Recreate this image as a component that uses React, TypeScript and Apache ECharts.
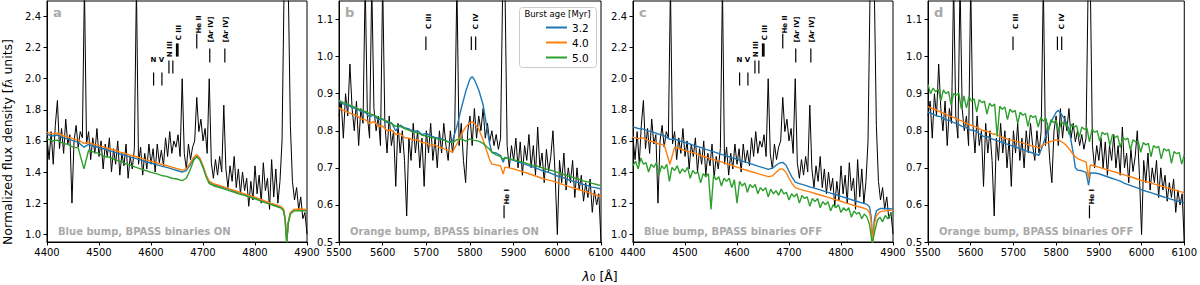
import React, { useEffect, useRef } from "react";
import * as echarts from "echarts";

const FONT = "DejaVu Sans";
const C_BLUE = "#1f77b4";
const C_ORANGE = "#ff7f0e";
const C_GREEN = "#2ca02c";
const GRAY = "#a9a9a9";

// ---------- tick labels ----------
const X_TICKS_BLUE = [4400, 4500, 4600, 4700, 4800, 4900];
const X_TICKS_ORANGE = [5500, 5600, 5700, 5800, 5900, 6000, 6100];
const Y_TICKS_BLUE = [1.0, 1.2, 1.4, 1.6, 1.8, 2.0, 2.2, 2.4];
const Y_TICKS_ORANGE = [0.5, 0.6, 0.7, 0.8, 0.9, 1.0, 1.1];

// ---------- observed spectra ----------
const OBS_BLUE_START = 4400;
const OBS_BLUE_STEP = 4;
const OBS_BLUE_BUMP = [
  1.62, 1.48, 1.66, 1.45, 1.70, 1.86, 1.55, 1.68, 1.52, 1.74,
  1.58, 1.64, 1.20, 1.60, 1.70, 1.56, 1.66, 1.62, 2.60, 1.58,
  1.66, 1.48, 1.62, 1.52, 1.68, 1.50, 1.60, 1.42, 1.58, 1.50,
  1.62, 1.40, 1.55, 1.45, 1.60, 1.38, 1.52, 1.44, 1.58, 1.36,
  1.50, 1.42, 1.55, 2.60, 1.45, 1.56, 1.38, 1.52, 1.42, 1.58,
  1.45, 1.55, 1.40, 1.58, 1.46, 1.54, 1.44, 1.62, 1.50, 1.66,
  1.52, 1.60, 1.56, 1.64, 1.50, 2.00, 1.52, 1.42, 1.58, 1.48,
  1.56, 1.60, 1.88, 1.66, 1.74, 1.60, 1.68, 1.52, 2.00, 1.46,
  1.36, 1.48, 1.38, 1.50, 1.40, 1.83, 1.42, 1.30, 1.44, 1.34,
  1.50, 1.30, 1.42, 1.26, 1.40, 1.28, 1.36, 1.18, 1.34, 1.22,
  1.44, 1.26, 1.38, 1.20, 1.46, 1.28, 1.36, 1.16, 1.48, 1.24,
  1.42, 1.20, 1.34, 1.60, 2.60, 2.60, 2.60, 1.70, 1.34, 1.22,
  1.30, 1.16, 1.24, 1.10, 1.14, 1.00,
];

const OBS_ORANGE_START = 5500;
const OBS_ORANGE_STEP = 5;
const OBS_ORANGE_BUMP = [
  0.84, 0.88, 0.78, 0.90, 0.84, 0.98, 0.86, 0.80, 0.88, 0.76,
  0.86, 0.82, 1.20, 0.84, 0.78, 1.20, 0.86, 0.80, 0.84, 0.76,
  1.20, 0.82, 0.74, 0.84, 0.76, 0.80, 0.65, 0.82, 0.74, 0.80,
  0.72, 0.57, 0.78, 0.72, 0.82, 0.74, 0.80, 0.70, 0.78, 0.65,
  0.80, 0.74, 0.82, 0.72, 0.78, 0.70, 0.80, 0.74, 0.82, 0.76,
  0.72, 0.80, 0.74, 0.80, 1.20, 0.76, 0.82, 0.72, 0.66, 0.80,
  0.84, 0.76, 0.86, 0.78, 0.84, 0.80, 0.86, 0.78, 0.82, 0.77,
  0.80, 0.76, 0.79, 0.75, 0.78, 1.20, 1.20, 0.76, 0.70, 0.76,
  0.72, 0.78, 0.70, 0.77, 0.68, 0.76, 0.72, 0.79, 0.70, 0.76,
  0.68, 0.81, 0.70, 0.74, 0.66, 0.75, 0.69, 0.73, 0.80, 0.68,
  0.52, 0.72, 0.66, 0.74, 0.64, 0.70, 0.66, 0.72, 0.62, 0.70,
  0.64, 0.68, 0.61, 0.66, 0.62, 0.67, 0.58, 0.64, 0.60, 0.63,
  0.50,
];

// ---------- models, blue bump ----------
const MODEL_WL_BLUE = [
  4400, 4410, 4420, 4430, 4440, 4450, 4460, 4471, 4480, 4490, 4500, 4510, 4520, 4530, 4540,
  4550, 4560, 4570, 4580, 4590, 4600, 4610, 4620, 4630, 4640, 4650, 4660, 4668, 4676, 4682,
  4688, 4694, 4700, 4706, 4712, 4720, 4730, 4740, 4750, 4760, 4770, 4780, 4790, 4800, 4810,
  4820, 4830, 4840, 4850, 4855, 4858, 4861, 4864, 4868, 4875, 4885, 4900,
];
const ON_BLUE_32 = [
  1.642, 1.632, 1.638, 1.622, 1.612, 1.602, 1.592, 1.560, 1.578, 1.566, 1.558, 1.548, 1.536, 1.528, 1.516,
  1.508, 1.496, 1.488, 1.478, 1.466, 1.458, 1.448, 1.438, 1.430, 1.420, 1.410, 1.400, 1.410, 1.450, 1.485,
  1.500, 1.482, 1.435, 1.375, 1.335, 1.320, 1.310, 1.300, 1.288, 1.278, 1.266, 1.256, 1.244, 1.234, 1.221,
  1.208, 1.196, 1.186, 1.174, 1.156, 1.096, 0.948, 1.076, 1.136, 1.156, 1.158, 1.156,
];
const ON_BLUE_40 = [
  1.655, 1.645, 1.650, 1.635, 1.625, 1.615, 1.605, 1.585, 1.590, 1.578, 1.570, 1.560, 1.548, 1.540, 1.528,
  1.520, 1.508, 1.500, 1.490, 1.478, 1.470, 1.460, 1.450, 1.442, 1.432, 1.422, 1.412, 1.420, 1.460, 1.495,
  1.512, 1.490, 1.440, 1.380, 1.340, 1.325, 1.315, 1.305, 1.292, 1.282, 1.270, 1.260, 1.248, 1.238, 1.225,
  1.212, 1.200, 1.190, 1.178, 1.160, 1.100, 0.950, 1.080, 1.140, 1.160, 1.162, 1.160,
];
const ON_BLUE_50 = [
  1.615, 1.600, 1.605, 1.585, 1.578, 1.560, 1.555, 1.420, 1.540, 1.528, 1.520, 1.500, 1.495, 1.480, 1.470,
  1.455, 1.445, 1.432, 1.420, 1.410, 1.398, 1.390, 1.378, 1.372, 1.360, 1.355, 1.345, 1.360, 1.420, 1.475,
  1.498, 1.478, 1.430, 1.370, 1.325, 1.312, 1.302, 1.292, 1.280, 1.270, 1.258, 1.250, 1.238, 1.228, 1.215,
  1.202, 1.192, 1.180, 1.168, 1.150, 1.090, 0.945, 1.070, 1.130, 1.150, 1.152, 1.150,
];
const OFF_BLUE_32 = [
  1.690, 1.680, 1.676, 1.665, 1.655, 1.643, 1.632, 1.610, 1.612, 1.600, 1.590, 1.580, 1.568, 1.558, 1.546,
  1.536, 1.525, 1.514, 1.503, 1.492, 1.482, 1.470, 1.460, 1.449, 1.438, 1.428, 1.417, 1.425, 1.445, 1.458,
  1.462, 1.445, 1.405, 1.365, 1.335, 1.325, 1.316, 1.305, 1.295, 1.285, 1.274, 1.264, 1.254, 1.243, 1.233,
  1.222, 1.212, 1.202, 1.192, 1.175, 1.110, 0.955, 1.090, 1.150, 1.165, 1.165, 1.162,
];
const OFF_BLUE_40 = [
  1.625, 1.615, 1.620, 1.600, 1.595, 1.580, 1.575, 1.450, 1.560, 1.550, 1.538, 1.528, 1.520, 1.505, 1.498,
  1.485, 1.475, 1.465, 1.452, 1.442, 1.432, 1.420, 1.410, 1.400, 1.390, 1.380, 1.370, 1.375, 1.400, 1.418,
  1.420, 1.400, 1.360, 1.325, 1.300, 1.290, 1.280, 1.272, 1.262, 1.252, 1.242, 1.232, 1.222, 1.212, 1.200,
  1.190, 1.180, 1.172, 1.160, 1.140, 1.080, 0.945, 1.060, 1.120, 1.145, 1.150, 1.155,
];
const OFF_BLUE_50_START = 4400;
const OFF_BLUE_50_STEP = 5;
const OFF_BLUE_50 = [
  1.44, 1.47, 1.42, 1.49, 1.45, 1.46, 1.40, 1.45, 1.43, 1.46,
  1.38, 1.44, 1.42, 1.45, 1.34, 1.43, 1.41, 1.44, 1.39, 1.42,
  1.40, 1.43, 1.36, 1.41, 1.39, 1.40, 1.33, 1.39, 1.37, 1.39,
  1.16, 1.38, 1.35, 1.37, 1.31, 1.36, 1.34, 1.36, 1.30, 1.35,
  1.20, 1.34, 1.31, 1.33, 1.27, 1.32, 1.30, 1.32, 1.26, 1.30,
  1.28, 1.30, 1.24, 1.29, 1.26, 1.28, 1.25, 1.29, 1.26, 1.27,
  1.22, 1.26, 1.24, 1.26, 1.20, 1.25, 1.23, 1.24, 1.18, 1.23,
  1.21, 1.23, 1.17, 1.21, 1.19, 1.21, 1.15, 1.19, 1.17, 1.19,
  1.14, 1.17, 1.15, 1.17, 1.11, 1.15, 1.13, 1.14, 1.10, 1.13,
  1.11, 1.06, 0.94, 1.02, 1.09, 1.11, 1.08, 1.12, 1.10, 1.13,
  1.14,
];

// ---------- models, orange bump ----------
const MODEL_WL_ORANGE = [
  5500, 5510, 5520, 5530, 5540, 5550, 5560, 5570, 5580, 5590, 5600, 5610, 5620, 5630, 5640, 5650,
  5660, 5670, 5680, 5690, 5700, 5710, 5720, 5730, 5740, 5750, 5760, 5770, 5780, 5790, 5800, 5805,
  5810, 5820, 5830, 5840, 5845, 5850, 5860, 5870, 5876, 5880, 5890, 5900, 5910, 5920, 5930, 5940,
  5950, 5960, 5970, 5980, 5990, 6000, 6010, 6020, 6030, 6040, 6050, 6060, 6070, 6080, 6090, 6100,
];
const ON_ORANGE_32 = [
  0.880, 0.872, 0.870, 0.862, 0.860, 0.852, 0.850, 0.838, 0.842, 0.830, 0.832, 0.822, 0.822, 0.800, 0.815, 0.808,
  0.805, 0.798, 0.800, 0.790, 0.793, 0.786, 0.782, 0.780, 0.776, 0.770, 0.772, 0.812, 0.860, 0.905, 0.940, 0.946,
  0.938, 0.910, 0.870, 0.800, 0.765, 0.742, 0.740, 0.733, 0.715, 0.728, 0.724, 0.720, 0.716, 0.712, 0.708, 0.704,
  0.700, 0.695, 0.690, 0.688, 0.683, 0.678, 0.675, 0.670, 0.666, 0.662, 0.660, 0.655, 0.652, 0.648, 0.646, 0.643,
];
const ON_ORANGE_40 = [
  0.862, 0.855, 0.850, 0.845, 0.842, 0.832, 0.830, 0.820, 0.825, 0.812, 0.812, 0.800, 0.802, 0.790, 0.792, 0.782,
  0.780, 0.775, 0.776, 0.768, 0.768, 0.760, 0.762, 0.755, 0.752, 0.748, 0.742, 0.765, 0.790, 0.810, 0.822, 0.824,
  0.820, 0.805, 0.775, 0.740, 0.722, 0.710, 0.708, 0.705, 0.683, 0.702, 0.700, 0.697, 0.693, 0.690, 0.686, 0.682,
  0.678, 0.674, 0.670, 0.667, 0.664, 0.660, 0.656, 0.652, 0.648, 0.645, 0.641, 0.637, 0.634, 0.630, 0.626, 0.622,
];
const ON_ORANGE_50 = [
  0.882, 0.876, 0.872, 0.866, 0.862, 0.856, 0.852, 0.846, 0.842, 0.836, 0.830, 0.826, 0.820, 0.812, 0.812, 0.806,
  0.802, 0.796, 0.795, 0.788, 0.786, 0.782, 0.780, 0.776, 0.775, 0.770, 0.768, 0.776, 0.778, 0.772, 0.778, 0.776,
  0.774, 0.772, 0.766, 0.755, 0.750, 0.742, 0.735, 0.730, 0.722, 0.728, 0.724, 0.722, 0.718, 0.716, 0.712, 0.708,
  0.706, 0.702, 0.698, 0.695, 0.692, 0.688, 0.684, 0.680, 0.676, 0.673, 0.669, 0.665, 0.662, 0.658, 0.655, 0.652,
];
const OFF_ORANGE_32 = [
  0.850, 0.846, 0.840, 0.838, 0.830, 0.828, 0.822, 0.818, 0.812, 0.808, 0.802, 0.800, 0.792, 0.785, 0.784, 0.778,
  0.774, 0.770, 0.766, 0.762, 0.758, 0.754, 0.750, 0.746, 0.742, 0.738, 0.734, 0.765, 0.800, 0.828, 0.850, 0.855,
  0.848, 0.832, 0.805, 0.740, 0.700, 0.694, 0.692, 0.688, 0.653, 0.686, 0.686, 0.684, 0.680, 0.676, 0.672, 0.668,
  0.664, 0.658, 0.654, 0.650, 0.646, 0.641, 0.637, 0.634, 0.630, 0.626, 0.622, 0.619, 0.615, 0.612, 0.609, 0.606,
];
const OFF_ORANGE_40 = [
  0.865, 0.860, 0.856, 0.850, 0.846, 0.840, 0.836, 0.830, 0.826, 0.820, 0.815, 0.812, 0.806, 0.800, 0.798, 0.792,
  0.790, 0.784, 0.780, 0.776, 0.774, 0.770, 0.768, 0.764, 0.760, 0.758, 0.754, 0.762, 0.768, 0.772, 0.775, 0.775,
  0.772, 0.765, 0.752, 0.736, 0.730, 0.725, 0.720, 0.716, 0.671, 0.708, 0.705, 0.702, 0.698, 0.695, 0.691, 0.688,
  0.684, 0.681, 0.677, 0.674, 0.670, 0.666, 0.663, 0.660, 0.656, 0.653, 0.650, 0.646, 0.643, 0.640, 0.636, 0.633,
];
const OFF_ORANGE_50_START = 5500;
const OFF_ORANGE_50_STEP = 6;
const OFF_ORANGE_50 = [
  0.925, 0.900, 0.915, 0.905, 0.912, 0.880, 0.910, 0.900, 0.906, 0.870,
  0.900, 0.896, 0.902, 0.860, 0.894, 0.862, 0.892, 0.880, 0.886, 0.850,
  0.884, 0.876, 0.880, 0.845, 0.874, 0.866, 0.872, 0.785, 0.866, 0.858,
  0.864, 0.830, 0.858, 0.850, 0.855, 0.820, 0.850, 0.842, 0.846, 0.812,
  0.842, 0.836, 0.840, 0.810, 0.836, 0.826, 0.834, 0.800, 0.830, 0.822,
  0.828, 0.798, 0.824, 0.818, 0.822, 0.790, 0.818, 0.810, 0.814, 0.782,
  0.810, 0.804, 0.808, 0.770, 0.804, 0.796, 0.800, 0.772, 0.796, 0.790,
  0.794, 0.760, 0.790, 0.782, 0.786, 0.755, 0.782, 0.776, 0.780, 0.748,
  0.776, 0.770, 0.772, 0.742, 0.768, 0.762, 0.766, 0.730, 0.760, 0.754,
  0.758, 0.724, 0.752, 0.746, 0.750, 0.712, 0.744, 0.738, 0.742, 0.710,
  0.735,
];

// ---------- line identifications ----------
const MARKS_BLUE = [
  { wl: 4605, y0: 1.957, y1: 2.04 },
  { wl: 4621, y0: 1.957, y1: 2.04 },
  { wl: 4634.5, y0: 2.034, y1: 2.118 },
  { wl: 4642, y0: 2.034, y1: 2.118 },
  { wl: 4649, y0: 2.143, y1: 2.227 },
  { wl: 4650.5, y0: 2.143, y1: 2.227 },
  { wl: 4652, y0: 2.143, y1: 2.227 },
  { wl: 4688, y0: 2.195, y1: 2.29 },
  { wl: 4713, y0: 2.105, y1: 2.195 },
  { wl: 4742, y0: 2.105, y1: 2.195 },
];
const LABELS_BLUE = [
  { wl: 4612, y: 2.118, text: "N V", rot: false },
  { wl: 4636, y: 2.19, text: "N III", rot: true },
  { wl: 4654, y: 2.297, text: "C III", rot: true },
  { wl: 4692, y: 2.349, text: "He II", rot: true },
  { wl: 4715, y: 2.317, text: "[Ar IV]", rot: true },
  { wl: 4744, y: 2.317, text: "[Ar IV]", rot: true },
];
const MARKS_ORANGE = [
  { wl: 5699, y0: 1.018, y1: 1.054 },
  { wl: 5803, y0: 1.018, y1: 1.054 },
  { wl: 5813, y0: 1.018, y1: 1.054 },
  { wl: 5878, y0: 0.564, y1: 0.599 },
];
const LABELS_ORANGE = [
  { wl: 5707, y: 1.095, text: "C III", rot: true },
  { wl: 5814, y: 1.095, text: "C IV", rot: true },
  { wl: 5885, y: 0.622, text: "He I", rot: true },
];

const AGES = ["3.2", "4.0", "5.0"];
const AGE_COLORS = [C_BLUE, C_ORANGE, C_GREEN];

const zip = (xs: number[], ys: number[]) => ys.map((y, i) => [xs[i], y]);
const onGrid = (start: number, step: number, ys: number[]) => ys.map((y, i) => [start + i * step, y]);

const OBS_BLUE = onGrid(OBS_BLUE_START, OBS_BLUE_STEP, OBS_BLUE_BUMP);
const OBS_ORANGE = onGrid(OBS_ORANGE_START, OBS_ORANGE_STEP, OBS_ORANGE_BUMP);

const PANELS = [
  {
    letter: "a", caption: "Blue bump, BPASS binaries ON", left: 47, width: 260,
    xMin: 4400, xMax: 4900, yMin: 0.95, yMax: 2.5, xTicks: X_TICKS_BLUE, yTicks: Y_TICKS_BLUE,
    obs: OBS_BLUE, marks: MARKS_BLUE, labels: LABELS_BLUE,
    models: [zip(MODEL_WL_BLUE, ON_BLUE_32), zip(MODEL_WL_BLUE, ON_BLUE_40), zip(MODEL_WL_BLUE, ON_BLUE_50)],
  },
  {
    letter: "b", caption: "Orange bump, BPASS binaries ON", left: 339, width: 262,
    xMin: 5500, xMax: 6100, yMin: 0.5, yMax: 1.15, xTicks: X_TICKS_ORANGE, yTicks: Y_TICKS_ORANGE,
    obs: OBS_ORANGE, marks: MARKS_ORANGE, labels: LABELS_ORANGE,
    models: [zip(MODEL_WL_ORANGE, ON_ORANGE_32), zip(MODEL_WL_ORANGE, ON_ORANGE_40), zip(MODEL_WL_ORANGE, ON_ORANGE_50)],
  },
  {
    letter: "c", caption: "Blue bump, BPASS binaries OFF", left: 633, width: 260,
    xMin: 4400, xMax: 4900, yMin: 0.95, yMax: 2.5, xTicks: X_TICKS_BLUE, yTicks: Y_TICKS_BLUE,
    obs: OBS_BLUE, marks: MARKS_BLUE, labels: LABELS_BLUE,
    models: [zip(MODEL_WL_BLUE, OFF_BLUE_32), zip(MODEL_WL_BLUE, OFF_BLUE_40), onGrid(OFF_BLUE_50_START, OFF_BLUE_50_STEP, OFF_BLUE_50)],
  },
  {
    letter: "d", caption: "Orange bump, BPASS binaries OFF", left: 928, width: 259,
    xMin: 5500, xMax: 6100, yMin: 0.5, yMax: 1.15, xTicks: X_TICKS_ORANGE, yTicks: Y_TICKS_ORANGE,
    obs: OBS_ORANGE, marks: MARKS_ORANGE, labels: LABELS_ORANGE,
    models: [zip(MODEL_WL_ORANGE, OFF_ORANGE_32), zip(MODEL_WL_ORANGE, OFF_ORANGE_40), onGrid(OFF_ORANGE_50_START, OFF_ORANGE_50_STEP, OFF_ORANGE_50)],
  },
];

const GRID_TOP = 1;
const GRID_HEIGHT = 241;

function buildOption() {
  const grids: any[] = [];
  const xAxes: any[] = [];
  const yAxes: any[] = [];
  const series: any[] = [];
  const graphics: any[] = [];

  PANELS.forEach((p, i) => {
    grids.push({
      left: p.left, top: GRID_TOP, width: p.width, height: GRID_HEIGHT,
      show: true, borderColor: "#000", borderWidth: 1, backgroundColor: "transparent",
    });
    xAxes.push({
      type: "value", gridIndex: i, min: p.xMin, max: p.xMax,
      axisLine: { show: true, onZero: false, lineStyle: { color: "#000", width: 1 } },
      axisTick: { show: true, length: 3.5, lineStyle: { color: "#000", width: 1 }, customValues: p.xTicks },
      axisLabel: {
        customValues: p.xTicks, color: "#000", fontSize: 10, fontFamily: FONT, margin: 5,
        showMinLabel: true, showMaxLabel: true,
        formatter: (v: number) => String(Math.round(v)),
      },
      splitLine: { show: false },
    });
    yAxes.push({
      type: "value", gridIndex: i, min: p.yMin, max: p.yMax,
      axisLine: { show: true, onZero: false, lineStyle: { color: "#000", width: 1 } },
      axisTick: { show: true, length: 3.5, lineStyle: { color: "#000", width: 1 }, customValues: p.yTicks },
      axisLabel: {
        customValues: p.yTicks, color: "#000", fontSize: 10, fontFamily: FONT, margin: 6,
        formatter: (v: number) => v.toFixed(1),
      },
      splitLine: { show: false },
    });

    series.push({
      type: "line", name: "observed", xAxisIndex: i, yAxisIndex: i, data: p.obs,
      showSymbol: false, symbol: "none", silent: true, clip: true, z: 2,
      lineStyle: { color: "#000", width: 1 }, itemStyle: { color: "#000" },
    });
    p.models.forEach((m, k) => {
      series.push({
        type: "line", name: AGES[k], xAxisIndex: i, yAxisIndex: i, data: m,
        showSymbol: false, symbol: "none", silent: true, clip: true, z: 3 + k,
        lineStyle: { color: AGE_COLORS[k], width: 1.4 }, itemStyle: { color: AGE_COLORS[k] },
      });
    });
    const marks = p.marks;
    series.push({
      type: "custom", name: "marks", xAxisIndex: i, yAxisIndex: i, silent: true, z: 8,
      data: marks.map((m) => [m.wl, m.y0, m.y1]),
      renderItem: (_params: any, api: any) => {
        const a = api.coord([api.value(0), api.value(1)]);
        const b = api.coord([api.value(0), api.value(2)]);
        return {
          type: "line",
          shape: { x1: a[0], y1: a[1], x2: b[0], y2: b[1] },
          style: { stroke: "#000", lineWidth: 1.2 },
        };
      },
    });
    const labels = p.labels;
    series.push({
      type: "custom", name: "labels", xAxisIndex: i, yAxisIndex: i, silent: true, z: 8,
      data: labels.map((l) => [l.wl, l.y]),
      renderItem: (params: any, api: any) => {
        const lab = labels[params.dataIndex];
        const pt = api.coord([api.value(0), api.value(1)]);
        return {
          type: "text", x: pt[0], y: pt[1], rotation: lab.rot ? Math.PI / 2 : 0,
          style: {
            text: lab.text, fill: "#000", fontSize: 7, fontWeight: "bold", fontFamily: FONT,
            align: "center", verticalAlign: "middle",
          },
        };
      },
    });

    graphics.push({
      type: "text", x: p.left + 6, y: 12, z: 20,
      style: {
        text: p.letter, fill: GRAY, fontSize: 13, fontWeight: "bold", fontFamily: FONT,
        align: "left", verticalAlign: "middle", textAlign: "left", textVerticalAlign: "middle",
      },
    });
    graphics.push({
      type: "text", x: p.left + 11, y: 231, z: 20,
      style: {
        text: p.caption, fill: GRAY, fontSize: 10, fontWeight: "bold", fontFamily: FONT,
        align: "left", verticalAlign: "middle", textAlign: "left", textVerticalAlign: "middle",
      },
    });
  });

  // legend box and title
  graphics.push({
    type: "rect", z: 15,
    shape: { x: 519.5, y: 7.5, width: 77, height: 60, r: 3 },
    style: { fill: "rgba(255,255,255,0.85)", stroke: "#cccccc", lineWidth: 1 },
  });
  graphics.push({
    type: "text", x: 557.5, y: 14, z: 21,
    style: {
      text: "Burst age [Myr]", fill: "#000", fontSize: 8.5, fontFamily: FONT,
      align: "center", verticalAlign: "middle", textAlign: "center", textVerticalAlign: "middle",
    },
  });
  // axis titles
  graphics.push({
    type: "text", x: 7, y: 142, rotation: Math.PI / 2, z: 20,
    style: {
      text: "Normalized flux density [{i|f}{s|λ} units]",
      fill: "#000", fontSize: 12.5, fontFamily: FONT,
      align: "center", verticalAlign: "middle", textAlign: "center", textVerticalAlign: "middle",
      rich: {
        i: { fontSize: 12.5, fontStyle: "italic", fontFamily: FONT, fill: "#000" },
        s: { fontSize: 9, fontStyle: "italic", fontFamily: FONT, fill: "#000", verticalAlign: "bottom" },
      },
    },
  });
  graphics.push({
    type: "text", x: 600, y: 276, z: 20,
    style: {
      text: "{i|λ}{s|0} [Å]",
      fill: "#000", fontSize: 12.5, fontFamily: FONT,
      align: "center", verticalAlign: "middle", textAlign: "center", textVerticalAlign: "middle",
      rich: {
        i: { fontSize: 12.5, fontStyle: "italic", fontFamily: FONT, fill: "#000" },
        s: { fontSize: 9, fontFamily: FONT, fill: "#000", verticalAlign: "bottom" },
      },
    },
  });

  return {
    animation: false,
    backgroundColor: "#ffffff",
    textStyle: { fontFamily: FONT },
    grid: grids,
    xAxis: xAxes,
    yAxis: yAxes,
    series,
    legend: {
      show: true, left: 546, top: 20, orient: "vertical", padding: 0, itemGap: 0,
      itemWidth: 21, itemHeight: 2, icon: "rect", selectedMode: false, z: 20,
      data: AGES,
      textStyle: { fontSize: 10.5, fontFamily: FONT, color: "#000", lineHeight: 15 },
    },
    graphic: { elements: graphics },
  };
}

export default function App() {
  const ref = useRef<HTMLDivElement>(null);
  useEffect(() => {
    if (!ref.current) return;
    const chart = echarts.init(ref.current, null, { renderer: "svg" });
    chart.setOption(buildOption() as any);
    return () => chart.dispose();
  }, []);
  return (
    <div
      ref={ref}
      style={{ position: "fixed", left: 0, top: 0, width: 1200, height: 285, background: "#fff" }}
    />
  );
}
